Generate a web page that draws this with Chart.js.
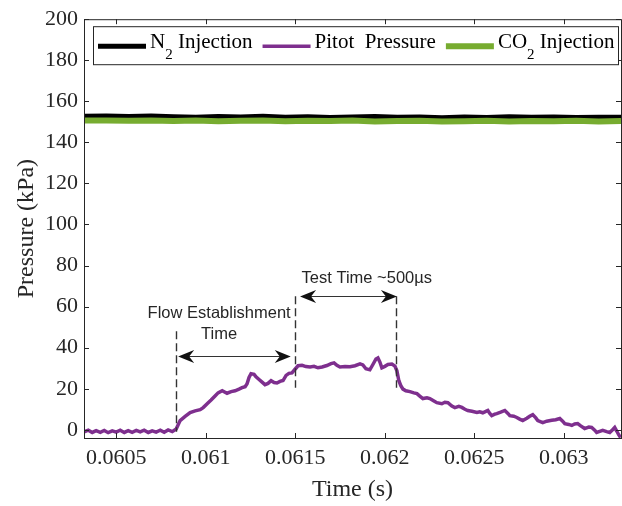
<!DOCTYPE html>
<html>
<head>
<meta charset="utf-8">
<script src="https://cdn.jsdelivr.net/npm/chart.js@4.4.0/dist/chart.umd.min.js"></script>
<style>
  html, body { margin: 0; padding: 0; background: #fff; }
</style>
</head>
<body>
<canvas id="pressureChart" width="622" height="506"></canvas>
<script>
// Time axis ticks (s)
const xTicks = [0.0605, 0.061, 0.0615, 0.062, 0.0625, 0.063];
const xTickLabels = ['0.0605', '0.061', '0.0615', '0.062', '0.0625', '0.063'];
// Pressure axis ticks (kPa)
const yTicks = [0, 20, 40, 60, 80, 100, 120, 140, 160, 180, 200];
const yTickLabels = ['0', '20', '40', '60', '80', '100', '120', '140', '160', '180', '200'];

// Series names (TeX style subscripts, "_2")
const seriesNames = ['N_2 Injection', 'Pitot  Pressure', 'CO_2 Injection'];

// Injection plenum pressure traces
const injTime = [0.06032, 0.060445, 0.06057, 0.060695, 0.06082, 0.060945, 0.06107, 0.061195,
  0.06132, 0.061445, 0.06157, 0.061695, 0.06182, 0.061945, 0.06207, 0.062195, 0.06232,
  0.062445, 0.06257, 0.062695, 0.06282, 0.062945, 0.06307, 0.063195, 0.06332];
const n2KPa = [152.7, 152.9, 152.6, 152.8, 152.5, 152.2, 152.6, 152.4, 152.7, 152.3, 152.5,
  152.1, 152.4, 152.6, 152.2, 152.3, 152.0, 152.4, 152.1, 152.5, 152.2, 152.4, 152.1, 152.3, 152.2];
const co2KPa = [150.6, 150.7, 150.5, 150.7, 150.4, 150.6, 150.3, 150.5, 150.6, 150.3, 150.5,
  150.4, 150.6, 150.2, 150.4, 150.5, 150.2, 150.3, 150.5, 150.2, 150.4, 150.3, 150.5, 150.2, 150.4];

// Pitot probe trace
const pitotTime = [0.060321, 0.060344, 0.060366, 0.060388, 0.060411, 0.060433, 0.060455, 0.060478,
  0.060500, 0.060522, 0.060545, 0.060567, 0.060589, 0.060612, 0.060634, 0.060656, 0.060679,
  0.060701, 0.060723, 0.060746, 0.060768, 0.060790, 0.060813, 0.060835,
  0.060857, 0.060885, 0.060913, 0.060941, 0.060969, 0.060986, 0.061008, 0.061030, 0.061052,
  0.061069, 0.061092, 0.061119, 0.061142, 0.061164, 0.061186, 0.061203, 0.061220, 0.061231,
  0.061242, 0.061253, 0.061270, 0.061281, 0.061298, 0.061315, 0.061331, 0.061348, 0.061365,
  0.061382, 0.061398, 0.061415, 0.061432, 0.061449, 0.061465, 0.061482, 0.061499, 0.061516,
  0.061538, 0.061560, 0.061583, 0.061605, 0.061627, 0.061650, 0.061677, 0.061700, 0.061717,
  0.061733, 0.061750, 0.061778, 0.061806, 0.061834, 0.061862, 0.061878, 0.061895, 0.061917,
  0.061934, 0.061951, 0.061962, 0.061973, 0.061984, 0.062001, 0.062018, 0.062040, 0.062057,
  0.062068, 0.062079, 0.062090, 0.062102, 0.062118, 0.062141, 0.062163, 0.062180, 0.062196,
  0.062213, 0.062236, 0.062252, 0.062275, 0.062291, 0.062319, 0.062336, 0.062353, 0.062375,
  0.062392, 0.062414, 0.062431, 0.062448, 0.062464, 0.062487, 0.062515, 0.062531, 0.062548,
  0.062565, 0.062576, 0.062587, 0.062598, 0.062615, 0.062626, 0.062648, 0.062671, 0.062688,
  0.062699, 0.062721, 0.062738, 0.062754, 0.062771, 0.062794, 0.062810, 0.062827, 0.062844,
  0.062855, 0.062883, 0.062905, 0.062933, 0.062955, 0.062978, 0.062994, 0.063006, 0.063028,
  0.063045, 0.063061, 0.063078, 0.063095, 0.063117, 0.063140, 0.063156, 0.063173, 0.063184,
  0.063201, 0.063218, 0.063240, 0.063257, 0.063273, 0.063285, 0.063296, 0.063307, 0.063318];
const pitotKPa = [-1.0, -0.2, -1.3, -0.4, -1.2, -0.3, -1.4, -0.5,
  -1.1, -0.2, -1.3, -0.4, -1.2, -0.3, -1.0, -0.2, -1.3,
  -0.5, -1.1, -0.2, -1.2, -0.1, -0.9, 0.4,
  4.5, 6.5, 8.4, 9.2, 9.8, 10.8, 12.7, 14.5, 16.5,
  18.0, 19.0, 17.8, 18.6, 19.0, 19.8, 20.5, 21.0, 22.4,
  25.5, 27.3, 27.0, 25.8, 24.5, 23.2, 22.0, 22.6, 23.9,
  23.0, 22.8, 23.6, 24.0, 26.5, 27.5, 27.7, 29.5, 31.2,
  31.4, 30.8, 30.6, 30.9, 30.2, 30.6, 31.3, 32.2, 32.6,
  31.4, 30.6, 30.8, 30.7, 31.2, 32.1, 31.6, 29.7, 29.2,
  31.8, 34.5, 35.0, 33.0, 30.2, 30.9, 31.8, 32.0, 31.0,
  28.7, 23.9, 21.5, 19.8, 19.0, 18.6, 18.0, 17.6, 16.4,
  15.2, 15.6, 15.2, 14.0, 13.2, 12.7, 13.4, 13.2, 11.6,
  10.8, 11.4, 10.9, 10.0, 9.4, 9.0, 8.4, 8.8, 8.3,
  9.0, 9.4, 8.0, 6.9, 7.6, 7.9, 8.6, 9.4, 8.0,
  6.9, 6.6, 6.0, 5.2, 4.5, 5.6, 6.6, 7.4, 5.8,
  4.5, 3.5, 4.2, 4.6, 4.9, 5.5, 4.2, 3.0, 2.6,
  2.1, 2.8, 3.0, 1.9, 0.6, 1.3, 1.1, -0.2, -1.3,
  -0.8, -0.3, -0.9, -1.3, 0.0, 1.1, -0.6, -2.4, -3.8];

const toPoints = (xs, ys) => xs.map((x, i) => ({ x: x, y: ys[i] }));

const INK = '#262626';
const SERIF = '"Liberation Serif", "Times New Roman", serif';
const SANS = '"Liberation Sans", Arial, sans-serif';

// flow establishment / test time markers, in data units
const marks = {
  dashes: [
    { t: 0.060835, from: -1, to: 48 },
    { t: 0.0615, from: 20.5, to: 65 },
    { t: 0.062065, from: 20.5, to: 65 }
  ],
  arrows: [
    { t0: 0.060846, t1: 0.061475, p: 36 },
    { t0: 0.061527, t1: 0.062068, p: 65 }
  ],
  labels: [
    { t: 0.061075, p: 56.8, text: 'Flow Establishment' },
    { t: 0.061075, p: 46.6, text: 'Time' },
    { t: 0.061900, p: 73.7, text: 'Test Time ~500µs' }
  ]
};

function arrowHead(ctx, x, y, dir) {
  const len = 16, half = 6.5, notch = 5;
  ctx.beginPath();
  ctx.moveTo(x, y);
  ctx.lineTo(x - dir * len, y - half);
  ctx.lineTo(x - dir * (len - notch), y);
  ctx.lineTo(x - dir * len, y + half);
  ctx.closePath();
  ctx.fill();
}

const markerPlugin = {
  id: 'markers',
  afterDatasetsDraw(chart) {
    const { ctx } = chart;
    const xs = chart.scales.x, ys = chart.scales.y;
    ctx.save();
    ctx.strokeStyle = '#333';
    ctx.fillStyle = '#111';
    ctx.lineWidth = 1.4;
    ctx.setLineDash([8, 4]);
    marks.dashes.forEach(d => {
      const x = Math.round(xs.getPixelForValue(d.t)) + 0.5;
      ctx.beginPath();
      ctx.moveTo(x, ys.getPixelForValue(d.to));
      ctx.lineTo(x, ys.getPixelForValue(d.from));
      ctx.stroke();
    });
    ctx.setLineDash([]);
    ctx.lineWidth = 1.2;
    marks.arrows.forEach(a => {
      const x0 = xs.getPixelForValue(a.t0), x1 = xs.getPixelForValue(a.t1);
      const y = Math.round(ys.getPixelForValue(a.p)) + 0.5;
      ctx.beginPath();
      ctx.moveTo(x0 + 8, y);
      ctx.lineTo(x1 - 8, y);
      ctx.stroke();
      arrowHead(ctx, x0, y, -1);
      arrowHead(ctx, x1, y, 1);
    });
    ctx.fillStyle = INK;
    ctx.font = '16.5px ' + SANS;
    ctx.textAlign = 'center';
    ctx.textBaseline = 'middle';
    marks.labels.forEach(l => {
      ctx.fillText(l.text, xs.getPixelForValue(l.t), ys.getPixelForValue(l.p));
    });
    ctx.restore();
  }
};

// draws "N_2 Injection" with a lowered subscript, returns the end x
function drawTex(ctx, text, x, baseline) {
  const parts = text.split(/_(\d)/);
  parts.forEach((part, i) => {
    if (!part) return;
    const sub = i % 2 === 1;
    ctx.font = (sub ? '15px ' : '21px ') + SERIF;
    ctx.fillText(part, x, baseline + (sub ? 11 : 0));
    x += ctx.measureText(part).width;
  });
  return x;
}

const framePlugin = {
  id: 'frame',
  afterDraw(chart) {
    const { ctx, chartArea: a } = chart;
    const xs = chart.scales.x, ys = chart.scales.y;
    ctx.save();
    ctx.strokeStyle = INK;
    ctx.lineWidth = 1;
    ctx.strokeRect(a.left + 0.5, a.top + 0.5, a.right - a.left, a.bottom - a.top);
    ctx.beginPath();
    xTicks.forEach(v => {
      const x = Math.round(xs.getPixelForValue(v)) + 0.5;
      ctx.moveTo(x, a.bottom); ctx.lineTo(x, a.bottom - 5);
      ctx.moveTo(x, a.top); ctx.lineTo(x, a.top + 5);
    });
    yTicks.forEach(v => {
      const y = Math.round(ys.getPixelForValue(v)) + 0.5;
      ctx.moveTo(a.left, y); ctx.lineTo(a.left + 5, y);
      ctx.moveTo(a.right, y); ctx.lineTo(a.right - 5, y);
    });
    ctx.stroke();

    // legend box inside the axes
    const bx0 = a.left + 9, by0 = a.top + 7, bx1 = a.right - 3, by1 = a.top + 45;
    ctx.fillStyle = '#fff';
    ctx.fillRect(bx0, by0, bx1 - bx0, by1 - by0);
    ctx.strokeRect(bx0 + 0.5, by0 + 0.5, bx1 - bx0, by1 - by0);
    const lineY = a.top + 27, baseline = a.top + 29;
    let x = bx0 + 5;
    ctx.textAlign = 'left';
    ctx.textBaseline = 'alphabetic';
    chart.data.datasets.forEach(ds => {
      ctx.strokeStyle = ds.borderColor;
      ctx.lineWidth = ds.borderWidth;
      ctx.beginPath();
      ctx.moveTo(x, lineY);
      ctx.lineTo(x + 48, lineY);
      ctx.stroke();
      x += 52;
      ctx.fillStyle = '#000';
      x = drawTex(ctx, ds.label, x, baseline) + 10;
    });
    ctx.restore();
  }
};

const ctx = document.getElementById('pressureChart').getContext('2d');
const chart = new Chart(ctx, {
  type: 'line',
  data: {
    datasets: [{
      label: seriesNames[0],
      data: toPoints(injTime, n2KPa),
      borderColor: '#000000',
      borderWidth: 5,
      order: 2
    }, {
      label: seriesNames[1],
      data: toPoints(pitotTime, pitotKPa),
      borderColor: '#7E2F8E',
      borderWidth: 3.5,
      order: 0
    }, {
      label: seriesNames[2],
      data: toPoints(injTime, co2KPa),
      borderColor: '#77AC30',
      borderWidth: 6,
      order: 1
    }]
  },
  options: {
    responsive: false,
    animation: false,
    devicePixelRatio: 1,
    layout: { padding: { top: 16, right: 1, left: 0, bottom: 0 } },
    elements: { point: { radius: 0 }, line: { tension: 0 } },
    plugins: { legend: { display: false }, tooltip: { enabled: false } },
    scales: {
      x: {
        type: 'linear',
        min: 0.06032,
        max: 0.06332,
        afterBuildTicks: axis => { axis.ticks = xTicks.map(v => ({ value: v })); },
        afterFit: axis => { axis.height = 68; },
        ticks: {
          autoSkip: false,
          maxRotation: 0,
          padding: 7,
          color: INK,
          font: { family: SERIF, size: 22 },
          callback: v => xTickLabels[xTicks.indexOf(v)]
        },
        grid: { display: false, drawTicks: false },
        border: { display: false },
        title: {
          display: true,
          text: 'Time (s)',
          color: INK,
          font: { family: SERIF, size: 24 },
          padding: { top: 0, bottom: 2 }
        }
      },
      y: {
        type: 'linear',
        min: -4,
        max: 200,
        afterBuildTicks: axis => { axis.ticks = yTicks.map(v => ({ value: v })); },
        afterFit: axis => { axis.width = 84; },
        ticks: {
          autoSkip: false,
          padding: 6,
          color: INK,
          font: { family: SERIF, size: 22 },
          callback: v => yTickLabels[yTicks.indexOf(v)]
        },
        grid: { display: false, drawTicks: false },
        border: { display: false },
        title: {
          display: true,
          text: 'Pressure (kPa)',
          color: INK,
          font: { family: SERIF, size: 24 },
          padding: { top: 12, bottom: 0 }
        }
      }
    }
  },
  plugins: [markerPlugin, framePlugin]
});
</script>
</body>
</html>
